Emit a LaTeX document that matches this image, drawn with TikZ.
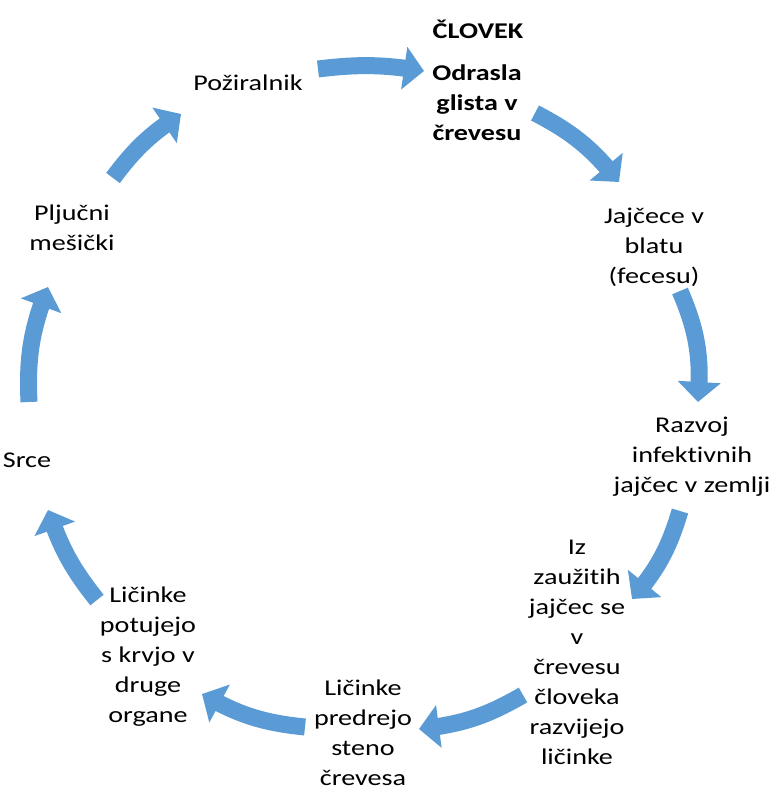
\documentclass[tikz,border=0pt]{standalone}
\usepackage{fontspec}
\setmainfont{Carlito}[FakeStretch=1.25,Ligatures=NoCommon]
\usetikzlibrary{arrows.meta,bending}
\definecolor{arrowblue}{HTML}{5B9BD5}
\begin{document}
\begin{tikzpicture}[x=1pt,y=-1pt,
    txt/.style={align=center,inner sep=0pt,text=black,
      font=\fontsize{22.5}{30}\selectfont,
      execute at begin node={\strut},execute at end node={\strut}},
    cyc/.style={draw=arrowblue,line width=17pt,
      -{Triangle[width=42pt,length=20pt]}}]
      \useasboundingbox (0,0) rectangle (776,792);

      % Stages of the cycle
      \node[txt,font=\fontsize{22.5}{30}\selectfont\bfseries] (clovek) at (478,33) {ČLOVEK};
      \node[txt,font=\fontsize{22.5}{30}\selectfont\bfseries] (odrasla) at (477,107) {Odrasla\\glista v\\črevesu};
      \node[txt] (jajcece) at (654,250) {Jajčece v\\blatu\\(fecesu)};
      \node[txt] (razvoj) at (692,459) {Razvoj\\infektivnih\\jajčec v zemlji};
      \node[txt] (iz) at (577,657) {Iz\\zaužitih\\jajčec se\\v\\črevesu\\človeka\\razvijejo\\ličinke};
      \node[txt] (predrejo) at (363,737) {Ličinke\\predrejo\\steno\\črevesa};
      \node[txt] (potujejo) at (148,659) {Ličinke\\potujejo\\s krvjo v\\druge\\organe};
      \node[txt] (srce) at (27,461) {Srce};
      \node[txt] (pljucni) at (72,232) {Pljučni\\mešički};
      \node[txt] (poziralnik) at (248,84) {Požiralnik};

      % Ends of the arrows
      \coordinate (a1s) at (318,69);  \coordinate (a1e) at (424,71);
      \coordinate (a2s) at (535,113); \coordinate (a2e) at (619,182);
      \coordinate (a3s) at (680,291); \coordinate (a3e) at (698,402);
      \coordinate (a4s) at (680,511); \coordinate (a4e) at (632,599);
      \coordinate (a5s) at (523,695); \coordinate (a5e) at (419,729);
      \coordinate (a6s) at (305,727); \coordinate (a6e) at (202,694);
      \coordinate (a7s) at (97,600);  \coordinate (a7e) at (48,510);
      \coordinate (a8s) at (29,402);  \coordinate (a8e) at (48,287);
      \coordinate (a9s) at (113,178); \coordinate (a9e) at (181,114);

      % Cycle arrows
      \draw[cyc] (a1s) to[bend left=8] (a1e);
      \draw[cyc] (a2s) to[bend left=12] (a2e);
      \draw[cyc] (a3s) to[bend left=14] (a3e);
      \draw[cyc] (a4s) to[bend left=12] (a4e);
      \draw[cyc] (a5s) to[bend left=12] (a5e);
      \draw[cyc] (a6s) to[bend left=12] (a6e);
      \draw[cyc] (a7s) to[bend left=10] (a7e);
      \draw[cyc] (a8s) to[bend left=12] (a8e);
      \draw[cyc] (a9s) to[bend left=10] (a9e);
    \end{tikzpicture}
\end{document}
